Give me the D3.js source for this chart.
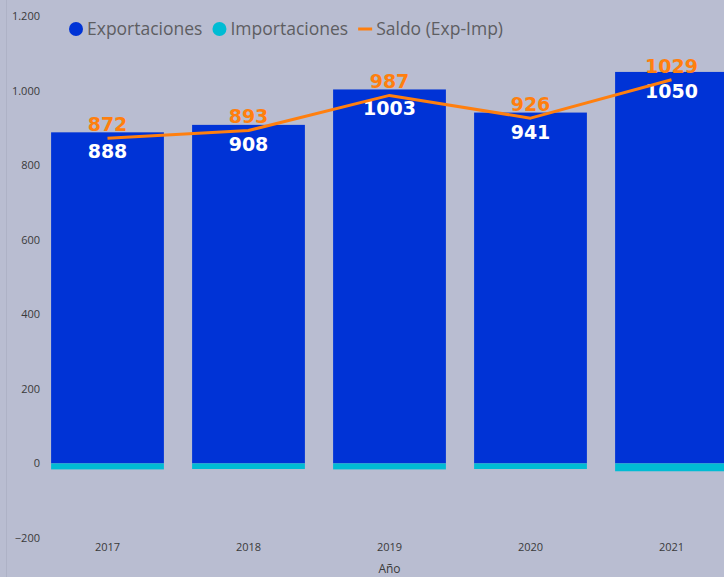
<!DOCTYPE html>
<html>
<head>
<meta charset="utf-8">
<script src="https://cdnjs.cloudflare.com/ajax/libs/d3/7.8.5/d3.min.js"></script>
<style>
  body { margin: 0; background: #b9bdd1; overflow: hidden; }
  svg { display: block; }
</style>
</head>
<body>
<div id="chart"></div>
<script>
// Data.
var years = ["2017", "2018", "2019", "2020", "2021"];
var exportaciones = [888, 908, 1003, 941, 1050];
var importaciones = [-16, -15, -16, -15, -21];
var saldo = [872, 893, 987, 926, 1029];
var yTicks = [-200, 0, 200, 400, 600, 800, 1000, 1200];

var width = 724;
var height = 577;

var colorExp = "#0033d6";
var colorImp = "#00bcd4";
var colorSaldo = "#ff7f0e";

var svg = d3.select("#chart")
    .append("svg")
    .attr("width", width)
    .attr("height", height);

// faint panel edge on the left
svg.append("line")
    .attr("x1", 6.5).attr("x2", 6.5)
    .attr("y1", 0).attr("y2", height)
    .attr("stroke", "#aeb2c6")
    .attr("stroke-width", 1);

// Scales
var x = d3.scaleBand()
    .domain(years)
    .range([37, 742])
    .paddingInner(0.2)
    .paddingOuter(0.1);

var y = d3.scaleLinear()
    .domain([-200, 1200])
    .range([538, 16]);

// y axis (labels only)
var yAxis = d3.axisLeft(y)
    .tickValues(yTicks)
    .tickSize(0)
    .tickPadding(0)
    .tickFormat(function(d) { return d3.format(",")(d).replace(/,/g, "."); });

svg.append("g")
    .attr("transform", "translate(40,0)")
    .call(yAxis)
    .call(function(g) { g.select(".domain").remove(); })
    .selectAll("text")
    .attr("fill", "#3a3a3a")
    .style("font-family", "'Open Sans', sans-serif")
    .style("font-size", "11px");

// x axis (labels only)
var xAxis = d3.axisBottom(x).tickSize(0).tickPadding(0);
svg.append("g")
    .attr("transform", "translate(0,543)")
    .call(xAxis)
    .call(function(g) { g.select(".domain").remove(); })
    .selectAll("text")
    .attr("fill", "#3a3a3a")
    .style("font-family", "'Open Sans', sans-serif")
    .style("font-size", "11px");

svg.append("text")
    .attr("x", x("2019") + x.bandwidth() / 2)
    .attr("y", 573)
    .attr("text-anchor", "middle")
    .attr("fill", "#3a3a3a")
    .style("font-family", "'Open Sans', sans-serif")
    .style("font-size", "12px")
    .text("Año");

// Exportaciones bars
svg.append("g").selectAll("rect")
    .data(exportaciones)
    .enter()
    .append("rect")
    .attr("x", (d, i) => x(years[i]))
    .attr("y", d => y(d))
    .attr("width", x.bandwidth())
    .attr("height", d => y(0) - y(d))
    .attr("fill", colorExp);

// Importaciones bars (negative)
svg.append("g").selectAll("rect")
    .data(importaciones)
    .enter()
    .append("rect")
    .attr("x", (d, i) => x(years[i]))
    .attr("y", y(0))
    .attr("width", x.bandwidth())
    .attr("height", d => y(d) - y(0))
    .attr("fill", colorImp);

// white labels inside bars
svg.append("g").selectAll("text")
    .data(exportaciones)
    .enter()
    .append("text")
    .attr("x", (d, i) => x(years[i]) + x.bandwidth() / 2)
    .attr("y", d => y(d) + 26)
    .attr("text-anchor", "middle")
    .attr("fill", "#ffffff")
    .style("font-family", "'DejaVu Sans', Verdana, sans-serif")
    .style("font-weight", "bold")
    .style("font-size", "19px")
    .text(d => d);

// Saldo line
var line = d3.line()
    .x((d, i) => x(years[i]) + x.bandwidth() / 2)
    .y(d => y(d));

svg.append("path")
    .datum(saldo)
    .attr("d", line)
    .attr("fill", "none")
    .attr("stroke", colorSaldo)
    .attr("stroke-width", 3)
    .attr("stroke-linejoin", "round");

// orange labels above line points
svg.append("g").selectAll("text")
    .data(saldo)
    .enter()
    .append("text")
    .attr("x", (d, i) => x(years[i]) + x.bandwidth() / 2)
    .attr("y", d => y(d) - 7)
    .attr("text-anchor", "middle")
    .attr("fill", colorSaldo)
    .style("font-family", "'DejaVu Sans', Verdana, sans-serif")
    .style("font-weight", "bold")
    .style("font-size", "19px")
    .text(d => d);

// Legend
var legendItems = [
    { name: "Exportaciones", color: colorExp, type: "circle" },
    { name: "Importaciones", color: colorImp, type: "circle" },
    { name: "Saldo (Exp-Imp)", color: colorSaldo, type: "line" }
];
var legend = svg.append("g").attr("id", "legend");
var lx = 69;
var ly = 29;
legendItems.forEach(function(item) {
    if (item.type === "circle") {
        legend.append("circle")
            .attr("cx", lx + 7).attr("cy", ly).attr("r", 7)
            .attr("fill", item.color);
    } else {
        legend.append("line")
            .attr("x1", lx).attr("x2", lx + 14)
            .attr("y1", ly).attr("y2", ly)
            .attr("stroke", item.color).attr("stroke-width", 3);
    }
    lx += 18;
    var t = legend.append("text")
        .attr("x", lx).attr("y", ly)
        .attr("dy", "0.35em")
        .attr("fill", "#5e5e62")
        .style("font-family", "'Open Sans', sans-serif")
        .style("font-size", "17.5px")
        .text(item.name);
    lx += t.node().getComputedTextLength() + 10;
});
</script>
</body>
</html>
